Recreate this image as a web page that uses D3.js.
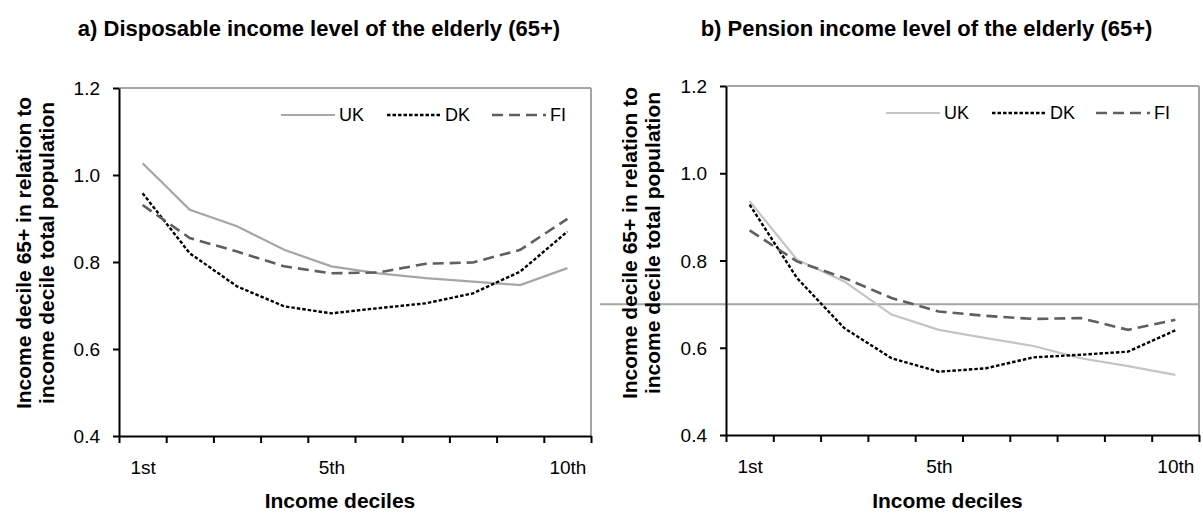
<!DOCTYPE html>
<html>
<head>
<meta charset="utf-8">
<script src="https://cdn.jsdelivr.net/npm/d3@7"></script>
<style>
  body { margin: 0; background: #fff; }
  text { font-family: "Liberation Sans", Arial, sans-serif; fill: #000; }
</style>
</head>
<body>
<svg width="1203" height="514"></svg>
<script>
// data
var deciles = ["1st", "2nd", "3rd", "4th", "5th", "6th", "7th", "8th", "9th", "10th"];
var shownTicks = ["1st", "5th", "10th"];
var yTicks = [0.4, 0.6, 0.8, 1.0, 1.2];
var countries = ["UK", "DK", "FI"];

var dispUK = [1.027, 0.920, 0.882, 0.828, 0.790, 0.774, 0.763, 0.755, 0.747, 0.786];
var dispDK = [0.958, 0.820, 0.744, 0.698, 0.682, 0.694, 0.705, 0.728, 0.778, 0.870];
var dispFI = [0.931, 0.855, 0.824, 0.790, 0.774, 0.776, 0.796, 0.799, 0.828, 0.899];

var penUK = [0.936, 0.802, 0.752, 0.676, 0.641, 0.622, 0.604, 0.576, 0.558, 0.538];
var penDK = [0.928, 0.760, 0.645, 0.576, 0.545, 0.553, 0.578, 0.584, 0.591, 0.640];
var penFI = [0.869, 0.798, 0.760, 0.714, 0.683, 0.673, 0.666, 0.668, 0.641, 0.664];

var penRefLine = 0.7;

var svg = d3.select("svg");

var panels = [
  { title: "a) Disposable income level of the elderly (65+)",
    x0: 119, x1: 591, y0: 436, y1: 88, ylabX: 24, ylabY: 253,
    series: [dispUK, dispDK, dispFI], ukColor: "#a6a6a6", legX: [281, 387, 492], legY: 115,
    ref: null },
  { title: "b) Pension income level of the elderly (65+)",
    x0: 726, x1: 1199, y0: 435, y1: 86, ylabX: 630, ylabY: 243,
    series: [penUK, penDK, penFI], ukColor: "#c4c4c4", legX: [886, 992, 1096], legY: 113,
    ref: penRefLine }
];

panels.forEach(function(p) {
  var x = d3.scaleLinear().domain([0.5, 10.5]).range([p.x0, p.x1]);
  var y = d3.scaleLinear().domain([0.4, 1.2]).range([p.y0, p.y1]);
  var g = svg.append("g");

  var styles = [
    { color: p.ukColor, dash: null, width: 2.2 },
    { color: "#000", dash: "3.5,2", width: 2.4 },
    { color: "#5f5f5f", dash: "11,6", width: 2.6 }
  ];

  // gray frame on top and right
  g.append("line").attr("x1", p.x0).attr("x2", p.x1).attr("y1", y(1.2)).attr("y2", y(1.2))
    .attr("stroke", "#a6a6a6").attr("stroke-width", 2);
  g.append("line").attr("x1", p.x1).attr("x2", p.x1).attr("y1", y(1.2)).attr("y2", y(0.4))
    .attr("stroke", "#a6a6a6").attr("stroke-width", 2);

  if (p.ref != null) {
    g.append("line").attr("x1", 600).attr("x2", p.x1).attr("y1", y(p.ref)).attr("y2", y(p.ref))
      .attr("stroke", "#a6a6a6").attr("stroke-width", 2);
  }

  // axes
  var ya = g.append("g").attr("transform", "translate(" + p.x0 + ",0)")
    .call(d3.axisLeft(y).tickValues(yTicks).tickFormat(d3.format(".1f")).tickSize(6).tickSizeOuter(0));
  ya.selectAll("text").attr("font-size", 19).attr("x", -19).attr("dy", "0.35em");

  g.append("g").attr("transform", "translate(0," + p.y0 + ")")
    .call(d3.axisBottom(x).tickValues(d3.range(0.5, 11, 1)).tickFormat("").tickSize(7).tickSizeOuter(0));
  g.append("g").attr("transform", "translate(0," + p.y0 + ")")
    .call(d3.axisBottom(x).tickValues(shownTicks.map(function(t) { return deciles.indexOf(t) + 1; }))
      .tickFormat(function(d) { return deciles[d - 1]; }).tickSize(0))
    .call(function(a) { a.select(".domain").remove(); })
    .selectAll("text").attr("font-size", 19).attr("y", 38).attr("dy", 0);

  g.selectAll(".domain, .tick line").attr("stroke", "#000").attr("stroke-width", 2);

  // lines
  var line = d3.line().x(function(d, i) { return x(i + 1); }).y(function(d) { return y(d); });
  p.series.forEach(function(s, i) {
    g.append("path").datum(s).attr("d", line).attr("fill", "none")
      .attr("stroke", styles[i].color).attr("stroke-width", styles[i].width)
      .attr("stroke-dasharray", styles[i].dash);
  });

  // legend
  countries.forEach(function(c, i) {
    g.append("line").attr("x1", p.legX[i]).attr("x2", p.legX[i] + 54)
      .attr("y1", p.legY).attr("y2", p.legY)
      .attr("stroke", styles[i].color).attr("stroke-width", styles[i].width)
      .attr("stroke-dasharray", styles[i].dash);
    g.append("text").attr("x", p.legX[i] + 58).attr("y", p.legY).attr("dy", "0.36em")
      .attr("font-size", 18).text(c);
  });

  // titles
  var mid = (p.x0 + p.x1) / 2;
  g.append("text").attr("x", mid - 36).attr("y", 36).attr("text-anchor", "middle").attr("font-size", 22)
    .attr("font-weight", "bold").text(p.title);
  g.append("text").attr("x", mid - 15).attr("y", 508).attr("text-anchor", "middle")
    .attr("font-size", 21).attr("font-weight", "bold").text("Income deciles");
  var yl = g.append("text").attr("transform", "translate(" + p.ylabX + "," + p.ylabY + ") rotate(-90)")
    .attr("text-anchor", "middle").attr("font-size", 21).attr("font-weight", "bold");
  yl.append("tspan").attr("x", 0).attr("dy", "0.35em").text("Income decile 65+ in relation to");
  yl.append("tspan").attr("x", 0).attr("dy", 23).text("income decile total population");
});
</script>
</body>
</html>
